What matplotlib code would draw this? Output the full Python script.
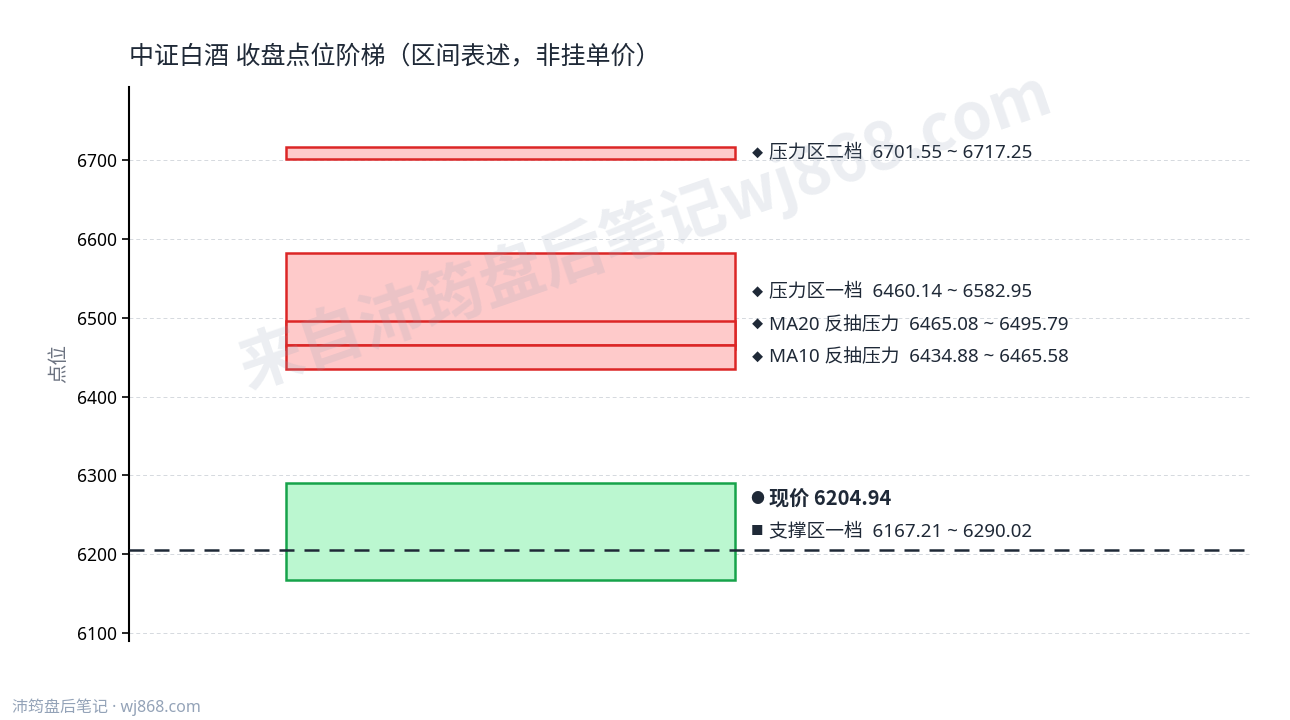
import matplotlib
matplotlib.use("Agg")
import matplotlib.pyplot as plt
from matplotlib.patches import Rectangle

plt.rcParams["font.family"] = ["Noto Sans", "Noto Sans CJK SC", "DejaVu Sans"]
CJK = ["Noto Sans CJK SC", "DejaVu Sans"]

# 区间数据（点位）
zone_names = ["压力区二档", "压力区一档", "MA20 反抽压力", "MA10 反抽压力", "支撑区一档"]
zone_low = [6701.55, 6460.14, 6465.08, 6434.88, 6167.21]
zone_high = [6717.25, 6582.95, 6495.79, 6465.58, 6290.02]
zone_kind = ["resist", "resist", "resist", "resist", "support"]
current_price = 6204.94

title = "中证白酒 收盘点位阶梯（区间表述，非挂单价）"
y_ticks = [6100, 6200, 6300, 6400, 6500, 6600, 6700]

STYLE = {
    "resist": dict(fc="#fecaca", ec="#dc2626", marker="◆", msize=8),
    "support": dict(fc="#bbf7d0", ec="#16a34a", marker="■", msize=9),
}
TEXT_C = "#1f2937"

fig = plt.figure(figsize=(12.9, 7.2), dpi=100)
ax = fig.add_axes([0.1, 0.11, 0.869, 0.769])
ax.set_xlim(0, 1)
ax.set_ylim(6090, 6793)

box_x0, box_x1 = 0.14, 0.541
for lo, hi, kind in zip(zone_low, zone_high, zone_kind):
    st = STYLE[kind]
    ax.add_patch(Rectangle((box_x0, lo), box_x1 - box_x0, hi - lo,
                           facecolor=st["fc"], edgecolor=st["ec"], lw=1.8, zorder=2))

ax.axhline(current_price, color=TEXT_C, ls=(0, (6, 4)), lw=1.8, zorder=3)

# 标签位置：按中点排序，避免重叠
gap = 41
items = [((lo + hi) / 2, STYLE[k]["marker"], STYLE[k]["msize"],
          f"{n}  {lo:.2f} ~ {hi:.2f}", "normal")
         for n, lo, hi, k in zip(zone_names, zone_low, zone_high, zone_kind)]
items.sort(key=lambda t: t[0])
placed = []
prev = -1e9
for mid, mk, ms, txt, w in items:
    y = max(mid, prev + gap)
    placed.append((y, mk, ms, txt, w))
    prev = y
# 现价标签放在不与其它标签冲突的位置
py = current_price
for p in sorted(placed):
    if abs(p[0] - py) < gap:
        py = p[0] + gap
placed.append((py, "●", 10, f"现价 {current_price:.2f}", "bold"))

for y, mk, ms, txt, w in placed:
    ax.text(0.5605, y, mk, va="center", ha="center", fontsize=ms,
            color=TEXT_C, family=CJK, zorder=5)
    if w == "bold":
        ax.text(0.571, y, txt, va="center", ha="left", fontsize=14.5,
                color=TEXT_C, fontweight="bold", family=CJK, zorder=5)
    else:
        ax.text(0.571, y, txt, va="center", ha="left", fontsize=13.5,
                color=TEXT_C, zorder=5)

ax.set_yticks(y_ticks)
ax.set_xticks([])
ax.tick_params(axis="y", labelsize=12.5, length=5, width=1.2, colors="black")
ax.grid(axis="y", color="#d1d5db", ls=(0, (4, 3)), lw=0.7, alpha=0.9)
ax.set_axisbelow(True)
for s in ["top", "right", "bottom"]:
    ax.spines[s].set_visible(False)
ax.spines["left"].set_linewidth(1.5)
ax.set_ylabel("点位", fontsize=14, color="#6b7280", labelpad=6)

fig.text(0.1, 0.92, title, fontsize=18, color=TEXT_C, ha="left", va="center")

# 水印
fig.text(0.5, 0.68, "来自沛筠盘后笔记wj868.com", fontsize=46, fontweight="bold",
         family=CJK, color="#94a3b8", alpha=0.18, rotation=19,
         ha="center", va="center", zorder=10)

fig.text(0.009, 0.018, "沛筠盘后笔记 · wj868.com", fontsize=11.5, color="#94a3b8",
         ha="left", va="center")

fig.savefig("out.png", dpi=100)
